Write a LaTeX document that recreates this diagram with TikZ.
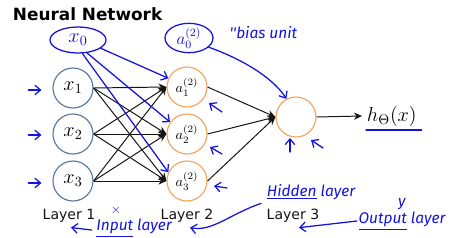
\documentclass[tikz,border=0pt]{standalone}
\usepackage{fontspec}
\setmainfont{DejaVu Sans}
\newfontfamily\handfont{Fira Sans}
\usepackage{tikz}
\usetikzlibrary{positioning, arrows.meta, calc, shapes.geometric}
\definecolor{InputBlue}{HTML}{56769C}
\definecolor{HiddenOrange}{HTML}{F2A35A}
\definecolor{Pen}{HTML}{1414DC}
\definecolor{Wire}{HTML}{141414}

\begin{document}
\begin{tikzpicture}[
    x=0.025cm, y=-0.025cm,
    every node/.style={font=\small},
    inputunit/.style={circle, draw=InputBlue, line width=0.8pt, minimum size=1cm, inner sep=0pt, font=\Large},
    hiddenunit/.style={circle, draw=HiddenOrange, line width=0.8pt, minimum size=1cm, inner sep=0pt, font=\normalsize},
    wire/.style={Wire, line width=0.7pt, -{Stealth[length=2mm, width=1.8mm]}},
    pen/.style={Pen, line width=0.9pt, line cap=round, line join=round},
    penarrow/.style={pen, -{Straight Barb[length=1.4mm, width=2.4mm]}},
    handtext/.style={Pen, font=\handfont\itshape\fontsize{11}{13}\selectfont, inner sep=1pt},
    biasunit/.style={ellipse, draw=Pen, line width=0.9pt, inner sep=0pt, Pen},
    layerlabel/.style={font=\fontsize{10}{12}\selectfont, Wire}
]
\useasboundingbox (0,0) rectangle (450,238);

% === Title ===
\node[font=\bfseries\fontsize{12}{14}\selectfont, anchor=west] (title) at (8,14) {Neural Network};

% === Layer 1: inputs ===
\node[inputunit] (x1) at (73,88) {$x_1$};
\node[inputunit] (x2) at (73,134) {$x_2$};
\node[inputunit] (x3) at (73,181) {$x_3$};

% === Layer 2: hidden units ===
\node[hiddenunit] (a1) at (187,87) {$a^{(2)}_1$};
\node[hiddenunit] (a2) at (187,134) {$a^{(2)}_2$};
\node[hiddenunit] (a3) at (187,181) {$a^{(2)}_3$};

% === Layer 3: output unit ===
\node[hiddenunit] (out) at (296,117) {};
\node[font=\Large, anchor=west] (hx) at (362,116) {$h_\Theta(x)$};

% Wires
\foreach \i in {1,2,3} {
    \foreach \j in {1,2,3} {
        \draw[wire] (x\i.east) -- (a\j.west);
    }
    \draw[wire] (a\i.east) -- (out.west);
}
\draw[wire] (out.east) -- (hx.west);

% Layer labels
\node[layerlabel] (l1) at (69,216) {Layer 1};
\node[layerlabel] (l2) at (187,216) {Layer 2};
\node[layerlabel] (l3) at (293,216) {Layer 3};

% === Pen annotations ===
% bias units
\node[biasunit, minimum width=1.4cm, minimum height=0.65cm, font=\Large] (x0) at (78,40) {$x_0$};
\node[biasunit, minimum width=1.2cm, minimum height=0.72cm, font=\large] (a0) at (189,38) {$a^{(2)}_0$};
\node[handtext, anchor=west] (bias) at (228,33) {''bias unit};

\draw[penarrow] (x0.-20) -- (a1.155);
\draw[penarrow] (x0.-55) -- (a2.145);
\draw[penarrow] (x0.-72) -- (a3.155);
\draw[penarrow] (a0.-25) .. controls (250,62) and (276,82) .. (out.118);

% marks pointing at units
\foreach \i/\dy in {1/2, 2/1, 3/2} {
    \draw[penarrow] ($(x\i.west)+(-24,\dy)$) -- ($(x\i.west)+(-11,\dy)$);
}
\draw[penarrow] ($(a1)+(35,25)$) -- ($(a1)+(22,16)$);
\draw[penarrow] ($(a2)+(35,20)$) -- ($(a2)+(23,13)$);
\draw[penarrow] ($(a3)+(40,7)$) -- ($(a3)+(27,5)$);
\draw[penarrow] ($(out)+(-6,35)$) -- ($(out)+(-6,21)$);
\draw[penarrow] ($(out)+(27,31)$) -- ($(out)+(15,23)$);
\draw[pen] ($(hx.south west)+(4,-1)$) -- ($(hx.south east)+(0,-1)$);

% layer names
\node[Pen, font=\fontsize{9}{10}\selectfont] (times) at (116,210) {$\times$};
\node[handtext] (inp) at (134,228) {\underline{Input} layer};
\draw[penarrow] ($(inp.west)+(-3,2)$) -- ($(l1.south)+(2,0)$);

\node[handtext] (hid) at (311,192) {\underline{Hidden} layer};
\draw[penarrow] ($(hid.south west)+(-4,2)$) .. controls (230,214) and (212,232) .. ($(l2.south)+(3,0)$);

\node[handtext] (outp) at (402,221) {\underline{Output} layer};
\node[handtext] (ylab) at (402,204) {y};
\draw[penarrow] (outp.west) -- ($(l3.south)+(6,0)$);

\end{tikzpicture}
\end{document}
